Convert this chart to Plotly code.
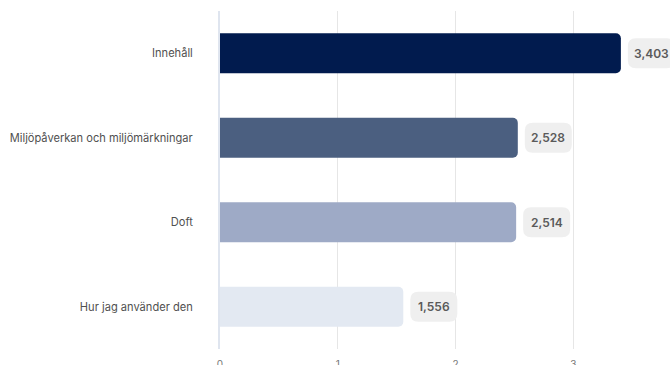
import plotly.graph_objects as go

# Survey themes and their average scores
categories = ["Innehåll", "Miljöpåverkan och miljömärkningar", "Doft", "Hur jag använder den"]
values = [3.403, 2.528, 2.514, 1.556]
colors = ["#011b4e", "#4b5f80", "#9eaac6", "#e3e9f2"]
x_ticks = [0, 1, 2, 3]

W, H = 670, 365
M = dict(l=220, r=0, t=11, b=16)
X_MAX = 3.82

# Pixel-to-data conversion used to size the value badges
plot_w = W - M["l"] - M["r"]
plot_h = H - M["t"] - M["b"]
px_x = X_MAX / plot_w          # data units per pixel (x)
px_y = len(categories) / plot_h  # category units per pixel (y)


def fmt(v):
    return f"{v:.3f}".replace(".", ",")


fig = go.Figure(
    go.Bar(
        x=values,
        y=categories,
        orientation="h",
        marker=dict(color=colors, cornerradius=5, line=dict(width=0)),
        hoverinfo="skip",
    )
)


def rounded_rect(x0, x1, y0, y1, rx, ry):
    return (
        f"M {x0 + rx},{y0} L {x1 - rx},{y0} Q {x1},{y0} {x1},{y0 + ry} "
        f"L {x1},{y1 - ry} Q {x1},{y1} {x1 - rx},{y1} "
        f"L {x0 + rx},{y1} Q {x0},{y1} {x0},{y1 - ry} "
        f"L {x0},{y0 + ry} Q {x0},{y0} {x0 + rx},{y0} Z"
    )


shapes = []
annotations = []
for i, (cat, v) in enumerate(zip(categories, values)):
    x0 = v + 7 * px_x
    x1 = x0 + 47 * px_x
    y0 = i - 15 * px_y
    y1 = i + 15 * px_y
    shapes.append(
        dict(
            type="path",
            xref="x",
            yref="y",
            path=rounded_rect(x0, x1, y0, y1, 8 * px_x, 8 * px_y),
            fillcolor="#efefef",
            line=dict(width=0),
            layer="above",
        )
    )
    annotations.append(
        dict(
            x=(x0 + x1) / 2,
            y=cat,
            xref="x",
            yref="y",
            text=fmt(v),
            showarrow=False,
            font=dict(family="Inter", size=12, color="#5a5a5a", weight=600),
            xanchor="center",
            yanchor="middle",
        )
    )

fig.update_layout(
    width=W,
    height=H,
    margin=M,
    paper_bgcolor="white",
    plot_bgcolor="white",
    showlegend=False,
    bargap=0.525,
    shapes=shapes,
    annotations=annotations,
    font=dict(family="Inter", size=11, color="#444444"),
    xaxis=dict(
        range=[0, X_MAX],
        tickvals=x_ticks,
        showgrid=True,
        gridcolor="#e6e6e6",
        gridwidth=1,
        zeroline=False,
        showline=False,
        tickfont=dict(size=10, color="#777777"),
        ticks="",
        ticklabelstandoff=8,
        automargin=False,
        fixedrange=True,
    ),
    yaxis=dict(
        categoryorder="array",
        categoryarray=categories,
        autorange="reversed",
        showgrid=False,
        zeroline=False,
        showline=True,
        linecolor="#dfe5ef",
        linewidth=2,
        ticks="",
        ticklabelstandoff=23,
        automargin=False,
        tickfont=dict(size=11.1, color="#505050"),
        fixedrange=True,
    ),
)

fig.write_html("out.html")
